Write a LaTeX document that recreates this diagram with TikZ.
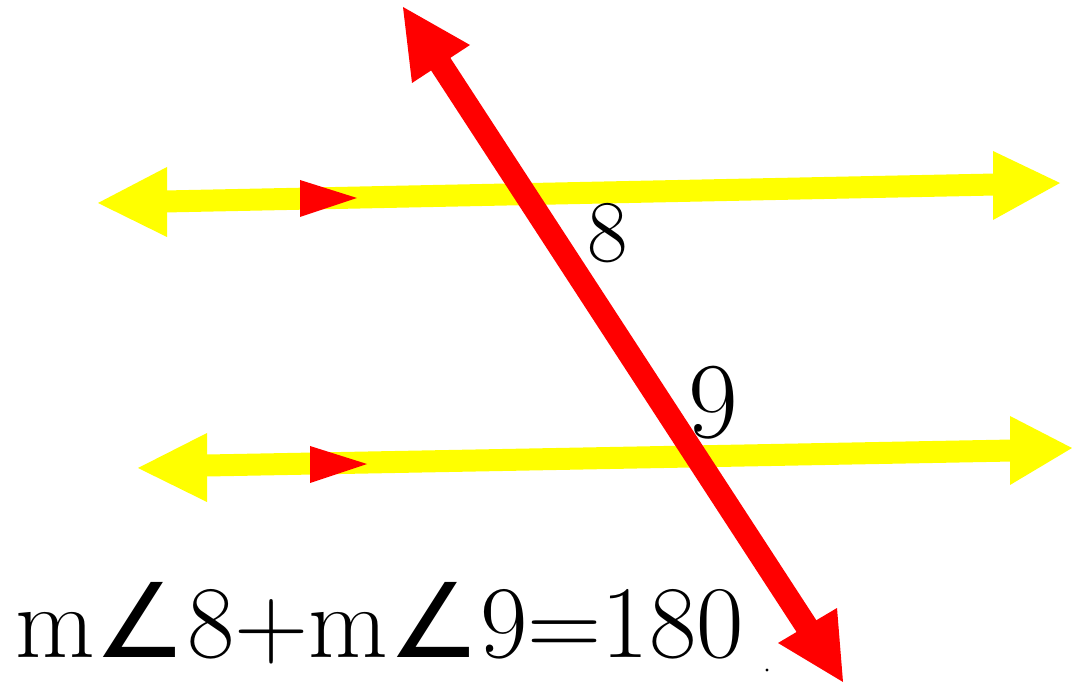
\documentclass[tikz,border=0pt]{standalone}
\usepackage{fontspec}
\newfontfamily\symfont{DejaVu Sans}
\definecolor{yel}{RGB}{255,255,0}
\definecolor{rd}{RGB}{255,0,0}
\tikzset{
  yshaft/.style={draw=yel, line width=11pt},
  yhead/.style={fill=yel},
  rshaft/.style={draw=rd, line width=11.5pt},
  rhead/.style={fill=rd},
  lbl/.style={inner sep=0pt, text=black}
}
\begin{document}
\begin{tikzpicture}[x=0.5pt,y=-0.5pt]
\useasboundingbox[fill=white] (0,0) rectangle (1072,684);
% top parallel line
\coordinate (t1tip) at (98,203);
\coordinate (t1a) at (167,167);
\coordinate (t1b) at (167,237);
\coordinate (t1s) at (140,202);
\coordinate (t2s) at (1020,184);
\coordinate (t2tip) at (1060,183);
\coordinate (t2a) at (993,151);
\coordinate (t2b) at (993,220);
\draw[yshaft] (t1s) -- (t2s);
\fill[yhead] (t1tip) -- (t1a) -- (t1b) -- cycle;
\fill[yhead] (t2tip) -- (t2a) -- (t2b) -- cycle;
\fill[rhead] (300,180) -- (357,198) -- (300,217) -- cycle;
% bottom parallel line
\coordinate (b1tip) at (138,468);
\coordinate (b1a) at (207,433);
\coordinate (b1b) at (207,502);
\coordinate (b1s) at (180,466);
\coordinate (b2s) at (1040,450);
\coordinate (b2tip) at (1072,448);
\coordinate (b2a) at (1010,416);
\coordinate (b2b) at (1010,485);
\draw[yshaft] (b1s) -- (b2s);
\fill[yhead] (b1tip) -- (b1a) -- (b1b) -- cycle;
\fill[yhead] (b2tip) -- (b2a) -- (b2b) -- cycle;
\fill[rhead] (310,446) -- (367,464) -- (310,483) -- cycle;
% transversal
\coordinate (r1tip) at (403,7);
\coordinate (r1a) at (470,45);
\coordinate (r1b) at (412,83);
\coordinate (r1s) at (425,40);
\coordinate (r2s) at (822,650);
\coordinate (r2tip) at (843,682);
\coordinate (r2a) at (837,608);
\coordinate (r2b) at (778,643);
\draw[rshaft] (r1s) -- (r2s);
\fill[rhead] (r1tip) -- (r1a) -- (r1b) -- cycle;
\fill[rhead] (r2tip) -- (r2a) -- (r2b) -- cycle;
% labels
\node[lbl, font=\fontsize{44}{50}\selectfont] (l8) at (608,233) {8};
\node[lbl, font=\fontsize{54}{60}\selectfont] (l9) at (713,403) {9};
\node[lbl, anchor=base west, font=\fontsize{51.5}{60}\selectfont] (eq) at (15,657) {m{\symfont ∠}8+m{\symfont ∠}9=180};
\fill[black] (767,670) circle (1.6);
\end{tikzpicture}
\end{document}
